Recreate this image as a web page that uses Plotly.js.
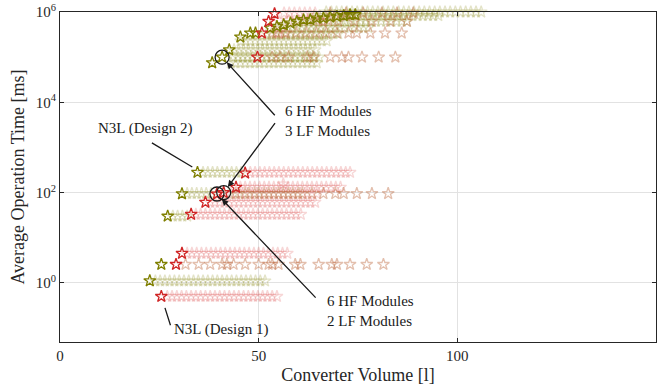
<!DOCTYPE html>
<html>
<head>
<meta charset="utf-8">
<script src="https://cdn.plot.ly/plotly-3.0.1.min.js"></script>
<style>
  html, body { margin: 0; padding: 0; background: #fff; }
  #chart { width: 666px; height: 385px; }
</style>
</head>
<body>
<div id="chart"></div>
<script>
// Converter volume [l] and average operation time [ms] of the design sweep.

// Highlighted designs of the first family (olive)
const oliveVolume = [22.6, 25.5, 27.1, 30.7, 34.6, 38.3, 40.8, 42.6,
  45.4, 47.9, 49.2, 52.9, 54.6, 56.3, 58.0, 59.6, 61.3, 63.0, 64.6, 66.3, 68.0, 69.7, 71.4, 73.0, 74.3];
const oliveTime = [1.11, 2.56, 30, 94, 280, 75000, 100000, 145000,
  279000, 342000, 342000, 442000, 479000, 522000, 569000, 618000, 675000, 675000, 735000, 735000, 773000, 798000, 828000, 871000, 871000];

// Highlighted designs of the second family (red)
const redVolume = [25.5, 29.2, 30.7, 33.0, 36.6, 39.5, 41.2, 44.3, 46.6, 49.7, 50.8, 52.5, 54.0];
const redTime = [0.5, 2.56, 4.5, 33, 61, 93, 100, 131, 270, 100000, 342000, 618000, 916000];

// Remaining olive designs, one row per operation-time level
const paleOliveTime = [1.1, 30, 95, 280, 75000, 100000, 145000, 230000, 330000, 450000, 620000, 830000, 1000000];
const paleOliveVolume = [
  [24.0, 25.2, 26.4, 27.6, 28.8, 30.0, 31.2, 32.4, 33.6, 34.8, 36.0, 37.2, 38.4, 39.6, 40.8, 42.0, 43.2, 44.4, 45.6, 46.8, 48.0, 49.2, 50.4, 51.6],
  [28.4, 29.6, 30.8, 32.0],
  [32.0, 33.2, 34.4, 35.6, 36.8, 38.0, 42.5, 45.0, 47.5, 50.0, 52.5, 55.0, 57.5, 60.0],
  [36.0, 37.2, 38.4, 39.6, 40.8, 42.0, 43.2, 44.4, 45.6],
  [43.0, 44.2, 45.4, 46.6, 47.8, 49.0, 50.2, 51.4, 52.6, 53.8, 55.0, 56.2, 57.4, 58.6, 59.8, 61.0, 62.2, 63.4, 64.6],
  [43.6, 44.8, 46.0, 47.2, 48.4, 49.6, 50.8, 52.0, 53.2, 54.4, 55.6, 56.8, 58.0, 59.2, 60.4, 61.6, 62.8, 64.0, 65.2],
  [43.8, 45.0, 46.2, 47.4, 48.6, 49.8, 51.0, 52.2, 53.4, 54.6, 55.8, 57.0, 58.2, 59.4, 60.6, 61.8, 63.0, 64.2],
  [45.5, 46.7, 47.9, 49.1, 50.3, 51.5, 52.7, 53.9, 55.1, 56.3, 57.5, 58.7, 59.9, 61.1, 62.3, 63.5, 64.7, 65.9, 67.1],
  [52.0, 53.2, 54.4, 55.6, 56.8, 58.0, 59.2, 60.4, 61.6, 62.8, 64.0, 65.2, 66.4, 67.6, 68.8, 70.0],
  [56.0, 57.2, 58.4, 59.6, 60.8, 62.0, 63.2, 64.4, 65.6, 66.8, 68.0, 69.2, 70.4, 71.6, 72.8, 74.0, 75.2, 76.4, 77.6],
  [60.0, 61.3, 62.6, 63.9, 65.2, 66.5, 67.8, 69.1, 70.4, 71.7, 73.0, 74.3, 75.6, 76.9, 78.2, 79.5, 80.8, 82.1, 83.4, 84.7, 86.0, 87.3],
  [64.0, 65.3, 66.6, 67.9, 69.2, 70.5, 71.8, 73.1, 74.4, 75.7, 77.0, 78.3, 79.6, 80.9, 82.2, 83.5, 84.8, 86.1, 87.4, 88.7, 90.0, 91.3, 92.6, 93.9, 95.2],
  [67.0, 68.3, 69.6, 70.9, 72.2, 73.5, 74.8, 76.1, 77.4, 78.7, 80.0, 81.3, 82.6, 83.9, 85.2, 86.5, 87.8, 89.1, 90.4, 91.7, 93.0, 94.3, 95.6, 96.9, 98.2, 99.5, 100.8, 102.1, 103.4, 104.7, 106.0]
];

// Remaining red designs
const paleRedTime = [0.5, 4.5, 33, 61, 131, 280, 155, 95, 950000, 650000, 342000];
const paleRedVolume = [
  [27.0, 28.2, 29.4, 30.6, 31.8, 33.0, 34.2, 35.4, 36.6, 37.8, 39.0, 40.2, 41.4, 42.6, 43.8, 45.0, 46.2, 47.4, 48.6, 49.8, 51.0, 52.2, 53.4, 54.6],
  [32.0, 33.2, 34.4, 35.6, 36.8, 38.0, 39.2, 40.4, 41.6, 42.8, 44.0, 45.2, 46.4, 47.6, 48.8, 50.0, 51.2, 52.4, 53.6, 54.8, 56.0, 57.2],
  [34.2, 35.4, 36.6, 37.8, 39.0, 40.2, 41.4, 42.6, 43.8, 45.0, 46.2, 47.4, 48.6, 49.8, 51.0, 52.2, 53.4, 54.6, 55.8, 57.0, 58.2, 59.4, 60.6],
  [37.8, 39.0, 40.2, 41.4, 42.6, 43.8, 45.0, 46.2, 47.4, 48.6, 49.8, 51.0, 52.2, 53.4, 54.6, 55.8, 57.0, 58.2, 59.4, 60.6, 61.8, 63.0, 64.2],
  [45.4, 46.6, 47.8, 49.0, 50.2, 51.4, 52.6, 53.8, 55.0, 56.2, 57.4, 58.6, 59.8, 61.0, 62.2, 63.4, 64.6, 65.8, 67.0, 68.2, 69.4, 70.6],
  [47.9, 49.1, 50.3, 51.5, 52.7, 53.9, 55.1, 56.3, 57.5, 58.7, 59.9, 61.1, 62.3, 63.5, 64.7, 65.9, 67.1, 68.3, 69.5, 70.7, 71.9, 73.0],
  [56.2],
  [43.0, 45.4, 47.8, 50.2, 52.6, 55.0, 57.4, 59.8, 62.2, 64.6],
  [56.4, 57.7, 59.0, 60.3, 61.6, 62.9, 64.2],
  [55.0, 57.5, 60.0, 62.5, 65.0, 67.5],
  [53.5, 55.0, 56.5]
];

// Designs present in both families (drawn in the mixed tone)
const sharedTime = [2.56, 95, 100000, 342000, 620000, 950000];
const sharedVolume = [
  [31.6, 34.9, 37.8, 40.8, 42.0, 43.7, 46.6, 50.0, 52.5, 53.4, 55.0, 59.2, 60.5, 65.1, 68.4, 69.7, 73.0, 77.2, 81.4],
  [44.2, 46.6, 49.0, 51.4, 53.8, 56.2, 58.6, 61.0, 63.4, 66.3, 69.3, 71.4, 74.7, 78.5, 82.6],
  [53.4, 55.4, 57.5, 62.2, 63.8, 68.0, 70.9, 72.6, 76.0, 80.2, 84.4],
  [54.4, 56.9, 59.5, 62.0, 64.5, 67.0, 69.7, 72.6, 74.7, 78.1, 81.8, 86.0],
  [66.0, 70.0, 74.0, 78.5, 83.1, 87.3],
  [68.0, 72.0, 76.3, 81.0, 84.8, 88.9]
];

// Circled designs: [family, index]
const circled = [['olive', 6], ['red', 5], ['red', 6]];

const yTickVals = [1, 100, 10000, 1000000];
const yTickText = ['10<sup>0</sup>', '10<sup>2</sup>', '10<sup>4</sup>', '10<sup>6</sup>'];

function flatten(times, rows) {
  const x = [], y = [];
  rows.forEach((row, i) => row.forEach(v => { x.push(v); y.push(times[i]); }));
  return { x, y };
}

const OLIVE = '#7f7f00';
const RED = '#d02525';
const FONT = 'Liberation Serif';

function starTrace(x, y, color, size) {
  return {
    type: 'scatter', mode: 'markers', x, y, cliponaxis: false, hoverinfo: 'skip',
    marker: { symbol: 'star-open', size: size, color: color, line: { width: 1.3 } }
  };
}

const po = flatten(paleOliveTime, paleOliveVolume);
const pr = flatten(paleRedTime, paleRedVolume);
const sh = flatten(sharedTime, sharedVolume);

const src = { olive: [oliveVolume, oliveTime], red: [redVolume, redTime] };
const cx = circled.map(c => src[c[0]][0][c[1]]);
const cy = circled.map(c => src[c[0]][1][c[1]]);

const traces = [
  starTrace(po.x, po.y, 'rgba(128,128,0,0.22)', 9),
  starTrace(pr.x, pr.y, 'rgba(215,50,50,0.2)', 9),
  starTrace(sh.x, sh.y, 'rgba(185,95,50,0.4)', 9),
  starTrace(oliveVolume, oliveTime, OLIVE, 9),
  starTrace(redVolume, redTime, RED, 9),
  {
    type: 'scatter', mode: 'markers', x: cx, y: cy, cliponaxis: false, hoverinfo: 'skip',
    marker: { symbol: 'circle-open', size: 14, color: '#1a1a1a', line: { width: 1.3 } }
  }
];

const lg = Math.log10;
const arrowBase = { xref: 'x', yref: 'y', axref: 'x', ayref: 'y', text: '', showarrow: true,
  arrowcolor: '#1a1a1a', arrowwidth: 1.3, arrowhead: 2, arrowsize: 1 };
const textBase = { xref: 'x', yref: 'y', showarrow: false,
  font: { family: FONT, size: 15, color: '#1a1a1a' } };

const annotations = [
  // 6 HF / 3 LF: two arrows from the label
  Object.assign({}, arrowBase, { x: cx[0], y: lg(cy[0]), ax: 54.4, ay: 3.68, standoff: 7 }),
  Object.assign({}, arrowBase, { x: cx[2], y: lg(cy[2]), ax: 54.4, ay: 3.57, standoff: 7 }),
  // 6 HF / 2 LF
  Object.assign({}, arrowBase, { x: cx[1], y: lg(cy[1]), ax: 64.7, ay: -0.36, standoff: 7 }),
  // leader lines of the N3L designs
  Object.assign({}, arrowBase, { x: 33.3, y: 2.567, ax: 22.75, ay: 3.12, arrowhead: 0 }),
  Object.assign({}, arrowBase, { x: 27.8, y: -0.94, ax: 26.3, ay: -0.52, arrowhead: 0 }),
  Object.assign({}, textBase, { x: 56.2, y: 3.59, xanchor: 'left', align: 'left', text: '6 HF Modules<br>3 LF Modules' }),
  Object.assign({}, textBase, { x: 66.8, y: -0.63, xanchor: 'left', align: 'left', text: '6 HF Modules<br>2 LF Modules' }),
  Object.assign({}, textBase, { x: 21.5, y: 3.41, text: 'N3L (Design 2)' }),
  Object.assign({}, textBase, { x: 28.3, y: -1.03, xanchor: 'left', text: 'N3L (Design 1)' })
];

const axisBase = {
  showgrid: true, gridcolor: '#e2e2e2', gridwidth: 1, zeroline: false,
  showline: true, linecolor: '#262626', linewidth: 1, mirror: 'ticks',
  ticks: 'inside', ticklen: 4, tickcolor: '#262626',
  tickfont: { family: FONT, size: 15, color: '#262626' }
};

const layout = {
  width: 666, height: 385,
  margin: { l: 60, r: 10, t: 12, b: 43 },
  paper_bgcolor: '#fff', plot_bgcolor: '#fff',
  showlegend: false,
  font: { family: FONT, color: '#262626' },
  xaxis: Object.assign({}, axisBase, {
    range: [0, 150], dtick: 50,
    title: { text: 'Converter Volume [l]', font: { family: FONT, size: 18, color: '#262626' }, standoff: 6 }
  }),
  yaxis: Object.assign({}, axisBase, {
    type: 'log', range: [-1.31, 6], tickvals: yTickVals, ticktext: yTickText,
    title: { text: 'Average Operation Time [ms]', font: { family: FONT, size: 18, color: '#262626' }, standoff: 6 }
  }),
  annotations: annotations
};

Plotly.newPlot('chart', traces, layout, { staticPlot: true, displayModeBar: false });
</script>
</body>
</html>
